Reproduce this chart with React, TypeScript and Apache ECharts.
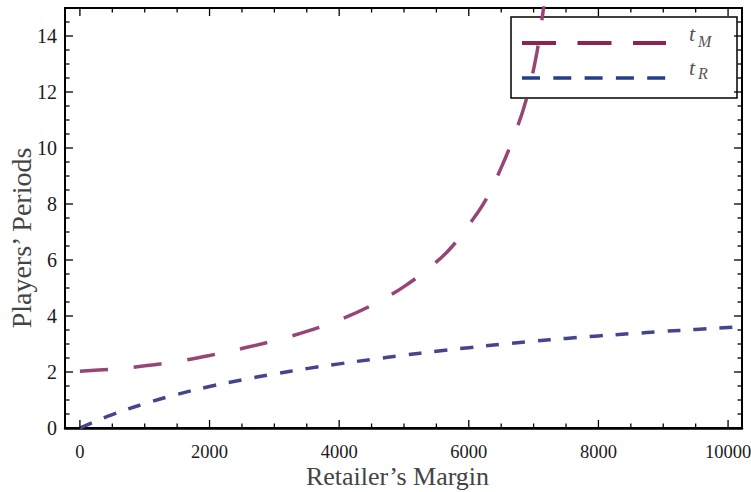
import React, { useEffect, useRef } from "react";
import * as echarts from "echarts";

// Retailer's margin (x) and the two players' periods (y)
const marginTM = [0, 500, 1000, 1500, 2000, 2500, 3000, 3500, 4000, 4500, 5000, 5500, 5750, 6000, 6250, 6500, 6750, 6900, 7050, 7150, 7250];
const periodsTM = [2.03, 2.1, 2.22, 2.38, 2.59, 2.84, 3.12, 3.45, 3.86, 4.38, 5.05, 5.93, 6.5, 7.25, 8.1, 9.3, 10.75, 11.85, 13.4, 14.95, 16.8];

const marginTR = [0, 250, 500, 1000, 1500, 2000, 2500, 3000, 3500, 4000, 4500, 5000, 5500, 6000, 6500, 7000, 7500, 8000, 8500, 9000, 9500, 10000, 10215];
const periodsTR = [0, 0.25, 0.48, 0.87, 1.2, 1.48, 1.72, 1.93, 2.12, 2.29, 2.45, 2.6, 2.74, 2.87, 2.99, 3.1, 3.2, 3.29, 3.37, 3.45, 3.52, 3.59, 3.62];

const xMajorTicks = [0, 2000, 4000, 6000, 8000, 10000];
const xMinorTicks = [500, 1000, 1500, 2500, 3000, 3500, 4500, 5000, 5500, 6500, 7000, 7500, 8500, 9000, 9500];
const yMajorTicks = [0, 2, 4, 6, 8, 10, 12, 14];
const yMinorTicks = [0.5, 1, 1.5, 2.5, 3, 3.5, 4.5, 5, 5.5, 6.5, 7, 7.5, 8.5, 9, 9.5, 10.5, 11, 11.5, 12.5, 13, 13.5, 14.5];

const xMin = -230;
const xMax = 10215;
const yMin = 0;
const yMax = 15;

const FONT = "Liberation Serif";

export default function App() {
  const ref = useRef<HTMLDivElement>(null);

  useEffect(() => {
    if (!ref.current) return;
    const chart = echarts.init(ref.current, null, { renderer: "svg" });

    const tickStyle = { stroke: "#000", lineWidth: 1.3 };

    // Frame ticks (inside, on all four sides) drawn through the axes' scales
    const tickSeries = (values: number[], orient: "x" | "y", len: number) => ({
      type: "custom",
      coordinateSystem: "cartesian2d",
      xAxisIndex: 0,
      yAxisIndex: 0,
      silent: true,
      clip: false,
      z: 5,
      data: values.map((v) => (orient === "x" ? [v, yMin] : [xMin, v])),
      renderItem: (_params: any, api: any) => {
        if (orient === "x") {
          const v = api.value(0);
          const a = api.coord([v, yMin]);
          const b = api.coord([v, yMax]);
          return {
            type: "group",
            children: [
              { type: "line", shape: { x1: a[0], y1: a[1], x2: a[0], y2: a[1] - len }, style: tickStyle },
              { type: "line", shape: { x1: b[0], y1: b[1], x2: b[0], y2: b[1] + len }, style: tickStyle },
            ],
          };
        }
        const v = api.value(1);
        const a = api.coord([xMin, v]);
        const b = api.coord([xMax, v]);
        return {
          type: "group",
          children: [
            { type: "line", shape: { x1: a[0], y1: a[1], x2: a[0] + len, y2: a[1] }, style: tickStyle },
            { type: "line", shape: { x1: b[0], y1: b[1], x2: b[0] - len, y2: b[1] }, style: tickStyle },
          ],
        };
      },
    });

    const option: any = {
      animation: false,
      backgroundColor: "#fff",
      textStyle: { fontFamily: FONT },
      grid: {
        left: 65,
        right: 9,
        top: 8,
        bottom: 64,
        outerBoundsMode: "none",
        show: true,
        borderColor: "#000",
        borderWidth: 2,
        backgroundColor: "transparent",
      },
      xAxis: {
        type: "value",
        min: xMin,
        max: xMax,
        position: "bottom",
        axisLine: { show: true, onZero: false, lineStyle: { color: "#000", width: 2.5 } },
        axisTick: { show: false },
        splitLine: { show: false },
        axisLabel: {
          show: true,
          customValues: xMajorTicks,
          formatter: (v: number) => String(v),
          margin: 14,
          fontFamily: FONT,
          fontSize: 18.5,
          color: "#1a1a1a",
        },
        name: "Retailer\u2019s Margin",
        nameLocation: "middle",
        nameGap: 35,
        nameMoveOverlap: false,
        nameTextStyle: { fontFamily: FONT, fontSize: 26, color: "#444", padding: [0, 12, 0, 0] },
      },
      yAxis: {
        type: "value",
        min: yMin,
        max: yMax,
        position: "left",
        axisLine: { show: false, onZero: false },
        axisTick: { show: false },
        splitLine: { show: false },
        axisLabel: {
          show: true,
          customValues: yMajorTicks,
          formatter: (v: number) => String(v),
          margin: 8,
          fontFamily: FONT,
          fontSize: 20,
          color: "#1a1a1a",
        },
        name: "Players\u2019 Periods",
        nameLocation: "middle",
        nameGap: 30,
        nameMoveOverlap: false,
        nameTextStyle: { fontFamily: FONT, fontSize: 28, color: "#444", padding: [0, 40, 0, 0] },
      },
      series: [
        {
          name: "tM",
          type: "line",
          data: marginTM.map((x, i) => [x, periodsTM[i]]),
          showSymbol: false,
          smooth: 0.4,
          clip: true,
          lineStyle: { color: "#984576", width: 3.5, type: [28, 26], cap: "butt" },
        },
        {
          name: "tR",
          type: "line",
          data: marginTR.map((x, i) => [x, periodsTR[i]]),
          showSymbol: false,
          smooth: 0.4,
          clip: true,
          lineStyle: { color: "#45458f", width: 3.5, type: [13, 13], cap: "butt" },
        },
        tickSeries(xMajorTicks, "x", 8),
        tickSeries(xMinorTicks, "x", 4.5),
        tickSeries(yMajorTicks, "y", 8),
        tickSeries(yMinorTicks, "y", 4.5),
      ],
      graphic: [
        {
          type: "group",
          z: 100,
          children: [
            {
              type: "rect",
              shape: { x: 511, y: 17, width: 226, height: 81 },
              style: { fill: "#fff", stroke: "#000", lineWidth: 1.5 },
            },
            {
              type: "line",
              shape: { x1: 522, y1: 43, x2: 666, y2: 43 },
              style: { stroke: "#8c2352", lineWidth: 4, lineDash: [34, 21.5] },
            },
            {
              type: "line",
              shape: { x1: 522, y1: 78, x2: 666, y2: 78 },
              style: { stroke: "#233f88", lineWidth: 3.5, lineDash: [18, 13.3] },
            },
            {
              type: "text",
              x: 689,
              y: 22,
              style: { text: "t", fontFamily: FONT, fontStyle: "italic", fontSize: 22, fill: "#555" },
            },
            {
              type: "text",
              x: 698,
              y: 33,
              style: { text: "M", fontFamily: FONT, fontStyle: "italic", fontSize: 16, fill: "#555" },
            },
            {
              type: "text",
              x: 689,
              y: 56,
              style: { text: "t", fontFamily: FONT, fontStyle: "italic", fontSize: 22, fill: "#555" },
            },
            {
              type: "text",
              x: 698,
              y: 65,
              style: { text: "R", fontFamily: FONT, fontStyle: "italic", fontSize: 16, fill: "#555" },
            },
          ],
        },
      ],
    };

    chart.setOption(option);
    return () => chart.dispose();
  }, []);

  return (
    <div
      ref={ref}
      style={{ position: "absolute", left: 0, top: 0, width: 751, height: 492 }}
    />
  );
}
